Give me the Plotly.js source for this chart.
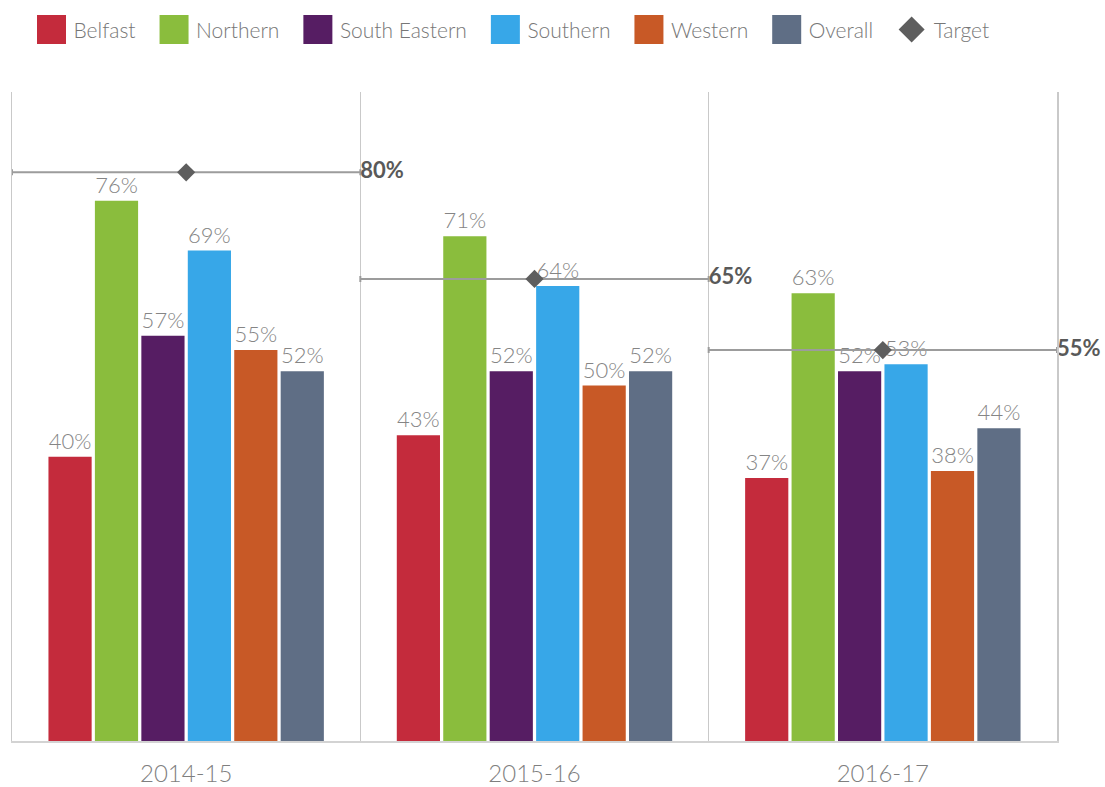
<!DOCTYPE html>
<html>
<head>
<meta charset="utf-8">
<script src="https://cdn.plot.ly/plotly-3.0.1.min.js"></script>
<style>
  html, body { margin: 0; padding: 0; background: #ffffff; }
  #chart { width: 1105px; height: 787px; }
</style>
</head>
<body>
<div id="chart"></div>
<script>
// Financial years on the category axis
const years = ['2014-15', '2015-16', '2016-17'];

// Percentage achieved by each area, one value per year
const belfast      = [40, 43, 37];
const northern     = [76, 71, 63];
const southEastern = [57, 52, 52];
const southern     = [69, 64, 53];
const western      = [55, 50, 38];
const overall      = [52, 52, 44];

// Target for each year
const target = [80, 65, 55];

const seriesNames  = ['Belfast', 'Northern', 'South Eastern', 'Southern', 'Western', 'Overall'];
const seriesValues = [belfast, northern, southEastern, southern, western, overall];
const seriesColors = ['#C42B3C', '#8ABD3D', '#561D63', '#37A7E8', '#C85926', '#5F6E85'];

const FONT = 'Lato, "Open Sans", "DejaVu Sans", sans-serif';

const traces = seriesNames.map((name, i) => ({
  type: 'bar',
  name: name,
  x: years,
  y: seriesValues[i],
  marker: { color: seriesColors[i], line: { width: 0 } },
  text: seriesValues[i].map(v => v + '%'),
  textposition: 'outside',
  constraintext: 'none',
  cliponaxis: false,
  textfont: { family: FONT, size: 22, color: '#858585', weight: 300 },
  hoverinfo: 'skip'
}));

// Target marker with a bar spanning the whole year band
const yearIndex = years.map((_, i) => i);
traces.push({
  type: 'scatter',
  mode: 'markers',
  name: 'Target',
  x: yearIndex,
  y: target,
  xaxis: 'x2',
  marker: { symbol: 'diamond', size: 14, color: '#5E5E5E', line: { width: 0 } },
  error_x: { type: 'constant', value: 0.5, color: '#9C9C9C', thickness: 2, width: 3 },
  cliponaxis: false,
  hoverinfo: 'skip'
});

// Target value written at the right end of each target bar
traces.push({
  type: 'scatter',
  mode: 'text',
  showlegend: false,
  x: yearIndex.map(i => i + 0.5),
  y: target,
  xaxis: 'x2',
  text: target.map(v => v + '%'),
  textposition: 'middle right',
  textfont: { family: FONT, size: 22, color: '#595959', weight: 700 },
  cliponaxis: false,
  hoverinfo: 'skip'
});

const layout = {
  width: 1105,
  height: 787,
  margin: { l: 12, r: 48, t: 92, b: 46, autoexpand: false },
  paper_bgcolor: '#ffffff',
  plot_bgcolor: '#ffffff',
  barmode: 'group',
  bargap: 0.2,
  bargroupgap: 0.07,
  showlegend: true,
  legend: {
    orientation: 'h',
    x: 0, xanchor: 'left',
    y: 1.13, yanchor: 'top',
    bgcolor: 'rgba(0,0,0,0)',
    font: { family: FONT, size: 21, color: '#777777', weight: 300 },
    traceorder: 'normal'
  },
  xaxis: {
    type: 'category',
    range: [-0.5, 2.5],
    tickson: 'boundaries',
    showgrid: true,
    gridcolor: '#C9C9C9',
    gridwidth: 1.5,
    showline: true,
    linecolor: '#D3D3D3',
    linewidth: 2,
    ticks: '',
    ticklabelstandoff: 10,
    tickfont: { family: FONT, size: 24, color: '#7F7F7F', weight: 300 },
    zeroline: false,
    fixedrange: true
  },
  xaxis2: {
    overlaying: 'x',
    range: [-0.5, 2.5],
    visible: false,
    fixedrange: true
  },
  yaxis: {
    range: [0, 91.3],
    showgrid: false,
    zeroline: false,
    showticklabels: false,
    ticks: '',
    showline: true,
    mirror: true,
    linecolor: '#C9C9C9',
    linewidth: 1.5,
    fixedrange: true
  }
};

// Enlarge legend keys and space the entries evenly
function tidyLegend(gd) {
  const items = Array.from(gd.querySelectorAll('.legend .traces'));
  const scroll = gd.querySelector('.legend .scrollbox');
  if (scroll) scroll.removeAttribute('clip-path');
  let x = 0;
  const rows = [];
  items.forEach(item => {
    const isDiamond = !!item.querySelector('.scatterpts');
    item.querySelectorAll('.legendpoints path').forEach(p => {
      const bb = p.getBBox();
      const size = Math.max(bb.width, bb.height) || 1;
      const want = isDiamond ? 26 : 29;
      p.setAttribute('transform', 'translate(20,0) scale(' + (want / size) + ')');
    });
    const txt = item.querySelector('text.legendtext');
    const tw = txt ? txt.getComputedTextLength() : 0;
    if (txt) txt.setAttribute('x', 42);
    const m = /translate\(([-\d.]+)[ ,]+([-\d.]+)\)/.exec(item.getAttribute('transform') || '');
    const y = m ? parseFloat(m[2]) : 0;
    rows.push({ item, x, y });
    x += tw + 42 + 24 - 5.5;
  });
  rows.forEach(r => r.item.setAttribute('transform', 'translate(' + r.x + ',' + r.y + ')'));
  // align first key with the left edge of the layout
  const first = items[0] && items[0].querySelector('.legendpoints path');
  if (first) {
    const rect = first.getBoundingClientRect();
    const dx = 37 - rect.left;
    const dy = 29.5 - (rect.top + rect.height / 2);
    rows.forEach(r => r.item.setAttribute('transform', 'translate(' + (r.x + dx) + ',' + (r.y + dy) + ')'));
  }
}

Plotly.newPlot('chart', traces, layout, { displayModeBar: false, staticPlot: true })
  .then(tidyLegend);
</script>
</body>
</html>
